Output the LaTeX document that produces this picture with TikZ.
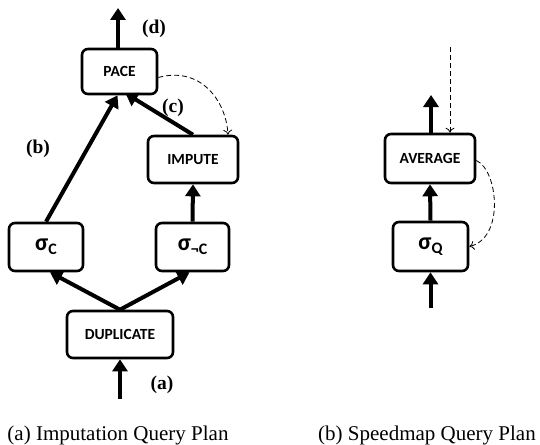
\documentclass[tikz,border=0pt]{standalone}
\usepackage{fontspec}
\setmainfont{Liberation Serif}
\newfontfamily\boxfont{Carlito}
\usetikzlibrary{arrows.meta}
\tikzset{
  opbox/.style={draw, line width=2.6pt, rounded corners=6pt, inner sep=0pt, font=\boxfont\bfseries\fontsize{15.5}{17}\selectfont},
  flow/.style={line width=4pt, -{Triangle[width=15pt,length=12pt]}},
  fb/.style={dashed, line width=0.8pt, dash pattern=on 5pt off 3pt, -{To[length=5pt,width=9pt]}},
  lab/.style={font=\bfseries\fontsize{19.5}{21}\selectfont},
  captext/.style={font=\fontsize{21}{24}\selectfont}
}
\newcommand{\sig}[1]{{\fontsize{24}{26}\selectfont σ}\raisebox{-4pt}{\fontsize{16}{18}\selectfont #1}}
\begin{document}
\begin{tikzpicture}[x=1pt,y=-1pt]
\useasboundingbox (0,0) rectangle (540,444);
% left plan
\node[opbox, minimum width=75pt, minimum height=45pt] (pace) at (119.5,71.5) {PACE};
\node[opbox, minimum width=90pt, minimum height=47pt] (impute) at (193,159.5) {IMPUTE};
\node[opbox, minimum width=74pt, minimum height=48pt] (sc) at (46,247) {\sig{C}};
\node[opbox, minimum width=73pt, minimum height=48pt] (snc) at (192.5,247) {\sig{¬C}};
\node[opbox, minimum width=106pt, minimum height=47pt] (dup) at (120,334.5) {DUPLICATE};
\coordinate (paceout) at (118,8);
\coordinate (dupin) at (120,399);
\draw[flow] (pace.north -| paceout) -- (paceout);
\draw[flow] (sc.north) -- ([xshift=-2pt]pace.south);
\draw[flow] (impute.north) -- ([xshift=6pt,yshift=2pt]pace.south);
\draw[flow] (snc.north) -- (impute.south);
\draw[flow] (dup.north) -- ([xshift=4pt]sc.south);
\draw[flow] (dup.north) -- ([xshift=-3pt]snc.south);
\draw[flow] (dupin) -- (dup.south);
\draw[fb] ([yshift=-6pt]pace.east) .. controls (200,66) and (226,100) .. ([xshift=35pt]impute.north);
\node[lab] (ld) at (154,29) {(d)};
\node[lab] (lc) at (173,108) {(c)};
\node[lab] (lb) at (38,149) {(b)};
\node[lab] (la) at (162,385) {(a)};
\node[captext] (capa) at (118,435) {(a) Imputation Query Plan};
% right plan
\node[opbox, minimum width=90pt, minimum height=49pt] (avg) at (430,158.5) {AVERAGE};
\node[opbox, minimum width=75pt, minimum height=49pt] (sq) at (430.5,246.5) {\sig{Q}};
\coordinate (avgout) at (431,95);
\coordinate (sqin) at (430.5,308);
\coordinate (fbtop) at (450,47);
\draw[flow] (avg.north -| avgout) -- (avgout);
\draw[flow] (sq.north) -- (avg.south);
\draw[flow] (sqin) -- (sq.south);
\draw[fb] (fbtop) -- (fbtop |- avg.north);
\draw[fb] ([yshift=-2pt]avg.east) .. controls (498,170) and (505,238) .. (sq.east);
\node[captext] (capb) at (427,435) {(b) Speedmap Query Plan};
\end{tikzpicture}
\end{document}
